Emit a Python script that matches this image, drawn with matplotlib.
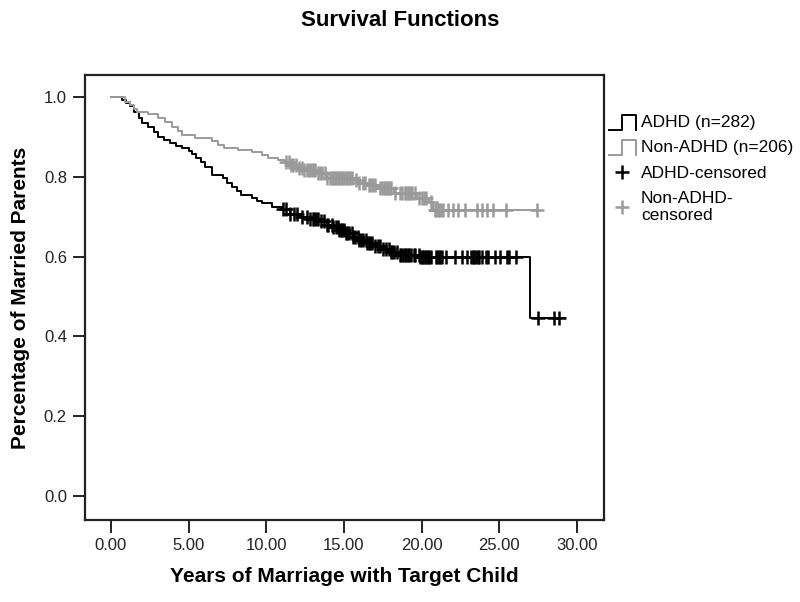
import matplotlib
matplotlib.use("Agg")
import matplotlib.pyplot as plt
from matplotlib.legend_handler import HandlerBase
from matplotlib.lines import Line2D
import numpy as np

plt.rcParams['font.family'] = ['Liberation Sans', 'DejaVu Sans']

# Kaplan-Meier steps: (time of drop, survival after drop)
adhd_times = [0.0, 0.7, 1.0, 1.2, 1.5, 1.8, 2.0, 2.4, 2.8, 3.0, 3.4, 3.8, 4.2,
              4.6, 5.0, 5.2, 5.5, 5.8, 6.05, 6.5, 7.2, 7.5, 7.8, 8.1, 8.4,
              9.1, 9.4, 9.7, 10.4, 11.0, 11.5, 12.2, 12.8, 13.4, 13.9, 14.3,
              14.7, 15.1, 15.6, 16.0, 16.5, 17.0, 17.5, 18.0, 18.6, 19.9,
              27.0, 29.2]
adhd_surv = [1.0, 0.993, 0.985, 0.978, 0.962, 0.948, 0.935, 0.925, 0.912,
             0.900, 0.893, 0.885, 0.878, 0.872, 0.865, 0.858, 0.848, 0.837,
             0.825, 0.805, 0.797, 0.785, 0.775, 0.765, 0.755, 0.747, 0.740,
             0.735, 0.725, 0.718, 0.707, 0.700, 0.695, 0.688, 0.680, 0.673,
             0.667, 0.660, 0.650, 0.642, 0.634, 0.627, 0.620, 0.612, 0.604,
             0.599, 0.445, 0.445]
adhd_censored = [11.1, 11.3, 11.5, 11.8, 12.0, 12.3, 12.6, 12.8, 13.0, 13.1,
                 13.2, 13.3, 13.5, 13.7, 13.9, 14.0, 14.2, 14.3, 14.5, 14.6,
                 14.7, 14.8, 14.9, 15.0, 15.1, 15.2, 15.3, 15.5, 15.6, 15.7,
                 15.9, 16.0, 16.1, 16.2, 16.4, 16.5, 16.6, 16.7, 16.8, 17.0,
                 17.2, 17.3, 17.5, 17.7, 17.9, 18.0, 18.1, 18.2, 18.4, 18.6,
                 18.7, 18.8, 18.9, 19.0, 19.1, 19.2, 19.3, 19.5, 19.6, 19.8,
                 19.9, 20.0, 20.1, 20.2, 20.3, 20.4, 20.5, 20.6, 20.9, 21.0,
                 21.1, 21.2, 21.3, 21.6, 22.15, 22.6, 22.9, 23.2, 23.3, 23.4,
                 23.5, 23.6, 23.7, 23.9, 24.15, 24.3, 24.7, 25.05, 25.5, 25.6,
                 26.1, 27.5, 28.5, 28.85]

non_times = [0.0, 0.9, 1.2, 1.5, 1.7, 2.4, 3.0, 3.5, 3.9, 4.3, 4.6, 5.4, 6.5,
             6.9, 7.3, 8.2, 9.1, 9.7, 10.1, 10.75, 11.2, 11.5, 12.0, 12.4,
             13.3, 13.9, 15.6, 16.0, 16.5, 17.3, 18.2, 19.7, 20.5, 20.75, 27.4]
non_surv = [1.0, 0.987, 0.980, 0.970, 0.962, 0.958, 0.947, 0.937, 0.925,
            0.915, 0.905, 0.897, 0.890, 0.880, 0.872, 0.867, 0.862, 0.855,
            0.847, 0.842, 0.836, 0.829, 0.822, 0.816, 0.809, 0.797, 0.791,
            0.785, 0.779, 0.771, 0.759, 0.747, 0.737, 0.716, 0.716]
non_censored = [11.3, 11.45, 11.6, 11.75, 11.9, 12.1, 12.3, 12.45, 12.6, 12.75,
                12.9, 13.0, 13.15, 13.3, 13.45, 13.6, 13.75, 13.9, 14.1, 14.2,
                14.3, 14.4, 14.5, 14.6, 14.7, 14.8, 14.9, 15.0, 15.1, 15.2,
                15.3, 15.4, 15.5, 15.75, 16.0, 16.2, 16.35, 16.6, 16.75, 16.9,
                17.0, 17.35, 17.45, 17.55, 17.65, 17.75, 17.85, 17.95, 18.05,
                18.3, 18.6, 18.75, 18.9, 19.0, 19.1, 19.2, 19.3, 19.4, 19.55,
                19.8, 20.0, 20.15, 20.3, 20.6, 20.85, 20.95, 21.05, 21.15,
                21.25, 21.35, 21.7, 22.0, 22.35, 22.8, 23.55, 23.9, 24.2, 24.6,
                25.4, 27.4]

labels = ['ADHD (n=282)', 'Non-ADHD (n=206)', 'ADHD-censored', 'Non-ADHD-\ncensored']
black = '#000000'
grey = '#9a9a9a'


def surv_at(times, surv, t):
    idx = np.searchsorted(times, t, side='right') - 1
    return np.asarray(surv)[idx]


class StepHandler(HandlerBase):
    # SPSS style legend glyph: _|~|
    def create_artists(self, legend, orig_handle, xdescent, ydescent,
                       width, height, fontsize, trans):
        x0, y0 = -xdescent, -ydescent - 0.2 * height
        h = height * 1.2
        xs = [x0, x0 + 0.5 * width, x0 + 0.5 * width, x0 + width, x0 + width]
        ys = [y0, y0, y0 + h, y0 + h, y0]
        line = Line2D(xs, ys, color=orig_handle.get_color(),
                      lw=orig_handle.get_linewidth(), transform=trans)
        return [line]


fig = plt.figure(figsize=(8, 6.02), dpi=100)
ax = fig.add_axes([85 / 800, 1 - 520 / 602, (604 - 85) / 800, (520 - 75) / 602])

l1, = ax.step(adhd_times, adhd_surv, where='post', color=black, lw=1.4)
l2, = ax.step(non_times, non_surv, where='post', color=grey, lw=1.4)
c1, = ax.plot(adhd_censored, surv_at(adhd_times, adhd_surv, adhd_censored),
              ls='none', marker='+', ms=10, mew=1.8, color=black)
c2, = ax.plot(non_censored, surv_at(non_times, non_surv, non_censored),
              ls='none', marker='+', ms=10, mew=1.8, color=grey)

ax.set_xlim(-1.67, 31.74)
ax.set_ylim(-0.06, 1.055)
ax.set_xticks(np.arange(0, 31, 5))
ax.set_xticklabels(['%.2f' % v for v in np.arange(0, 31, 5)])
ax.set_yticks(np.arange(0, 1.01, 0.2))
ax.set_yticklabels(['%.1f' % v for v in np.arange(0, 1.01, 0.2)])
ax.tick_params(direction='out', length=9, width=1.4, labelsize=12, pad=4,
               colors='#222222')
for sp in ax.spines.values():
    sp.set_linewidth(1.6)
    sp.set_color('#222222')

ax.set_xlabel('Years of Marriage with Target Child', fontsize=15,
              fontweight='bold', labelpad=10)
ax.set_ylabel('Percentage of Married Parents', fontsize=15,
              fontweight='bold', labelpad=10)
fig.suptitle('Survival Functions', fontsize=16, fontweight='bold',
             y=1 - 20 / 602, va='center')

fig.legend([l1, l2, c1, c2], labels, loc='upper left',
           bbox_to_anchor=(609 / 800, 1 - 115 / 602), frameon=False,
           fontsize=12.5, handlelength=1.55, handletextpad=0.3,
           borderpad=0, borderaxespad=0, labelspacing=0.58,
           handler_map={l1: StepHandler(), l2: StepHandler()})

fig.savefig('out.png', dpi=100)
